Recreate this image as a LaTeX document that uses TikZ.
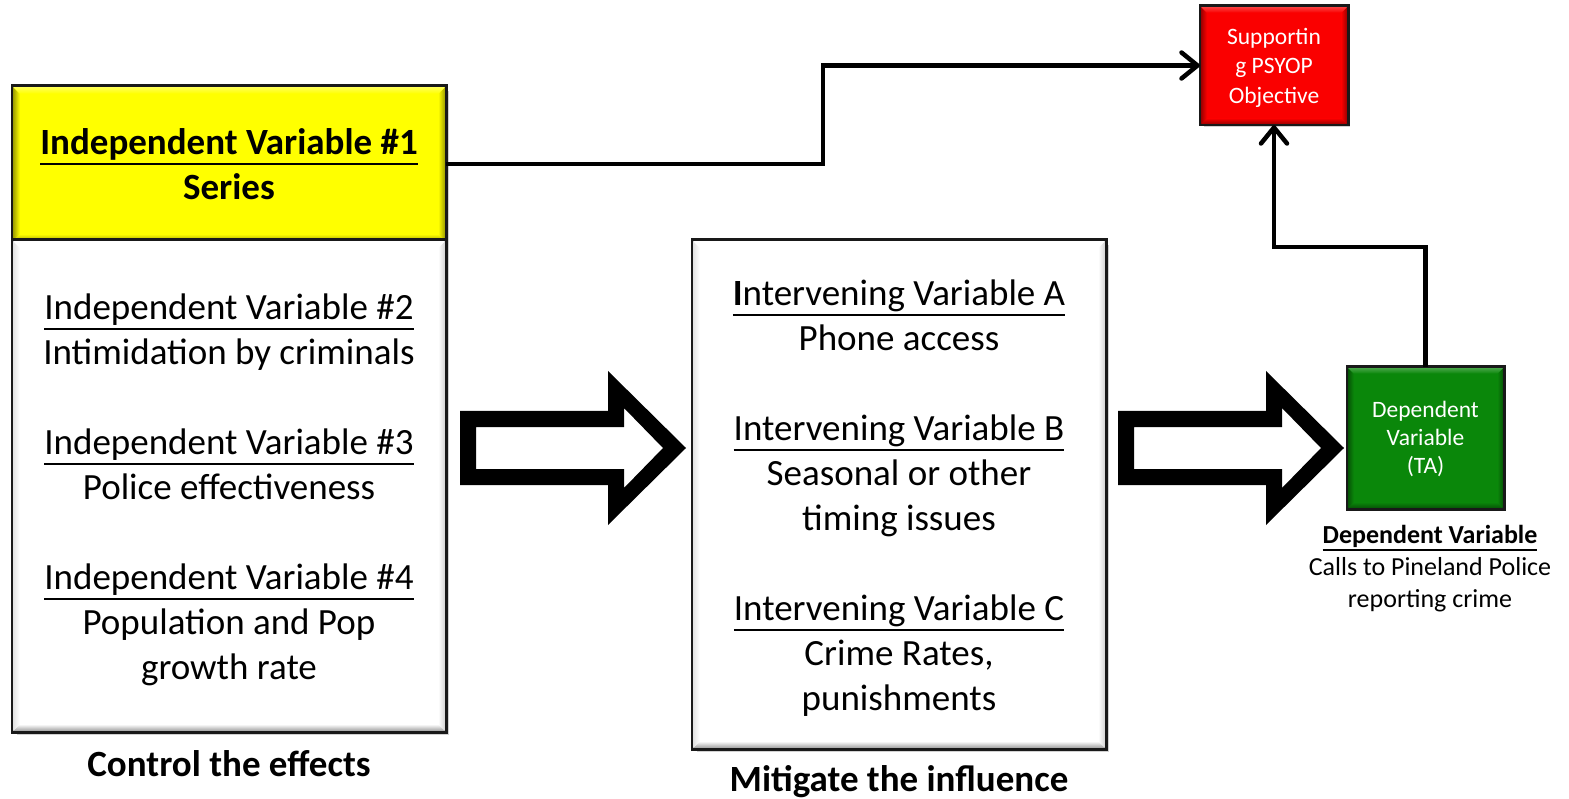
\documentclass[tikz,border=0pt]{standalone}
\usepackage{fontspec}
\setmainfont{Carlito}
\newsavebox\myulbox
\newcommand\myul[1]{\sbox\myulbox{#1}\rlap{\rule[-0.27em]{\wd\myulbox}{0.05em}}\usebox\myulbox}
\usetikzlibrary{arrows.meta,calc}
\definecolor{grn}{RGB}{10,135,10}
\definecolor{rd}{RGB}{250,0,0}
\definecolor{ylw}{RGB}{255,255,0}
\newcommand\bevelbox[5]{% node, width, base, dark, light
  \shade[top color=#3, bottom color=#4] (#1.south west) -- (#1.south east) -- ([shift={(-#2,-#2)}]#1.south east) -- ([shift={(#2,-#2)}]#1.south west) -- cycle;
  \shade[left color=#3, right color=#3!55!#4] (#1.south east) -- (#1.north east) -- ([shift={(-#2,#2)}]#1.north east) -- ([shift={(-#2,-#2)}]#1.south east) -- cycle;
  \shade[left color=#3!70!#4, right color=#3] (#1.north west) -- (#1.south west) -- ([shift={(#2,-#2)}]#1.south west) -- ([shift={(#2,#2)}]#1.north west) -- cycle;
  \shade[top color=#5, bottom color=#3] (#1.north west) -- (#1.north east) -- ([shift={(-#2,#2)}]#1.north east) -- ([shift={(#2,#2)}]#1.north west) -- cycle;
  \draw[black!90, line width=2.5pt] (#1.south west) rectangle (#1.north east);
}
\tikzset{
  box/.style={draw=black!90, line width=2.5pt, inner sep=0pt, rectangle},
  conn/.style={line width=4.5pt, line join=miter, -{Straight Barb[length=16pt,width=26pt,line cap=round,line join=round]}},
  txt/.style={anchor=base, inner sep=0pt},
  big/.style={font=\fontsize{37}{45}\selectfont},
  bigb/.style={font=\fontsize{37}{45}\selectfont\bfseries},
  shadow/.style={fill=black, opacity=0.18},
  hollow/.pic={
    \fill[black, even odd rule] (460,411) -- (608,411) -- (608,371) -- (686,448) -- (608,525) -- (608,485) -- (460,485) -- cycle
      (476,427) -- (624,427) -- (624,408) -- (663,448) -- (624,488) -- (624,469) -- (476,469) -- cycle;
  }
}
\begin{document}
\begin{tikzpicture}[x=1pt,y=-1pt]
\useasboundingbox (0,0) rectangle (1569,799);
% shadows
\fill[shadow] (17,91) rectangle (449,735);
\fill[shadow] (697,245) rectangle (1109,752);
\fill[shadow] (1351,371) rectangle (1506,511);
\fill[shadow] (1204,10) rectangle (1350,127);
% boxes
\node[box, fill=ylw, minimum width=432pt, minimum height=154pt] (yb) at (229,164) {};
\bevelbox{yb}{8}{ylw}{ylw!55!black}{ylw!60!white}
\node[box, fill=white, minimum width=432pt, minimum height=490pt] (lb) at (229,486) {};
\bevelbox{lb}{8}{white}{black!45}{white}
\node[box, fill=white, minimum width=412pt, minimum height=507pt] (mb) at (899,494.5) {};
\bevelbox{mb}{8}{white}{black!45}{white}
\node[box, fill=grn, minimum width=155pt, minimum height=140pt] (gb) at (1425.5,438) {};
\bevelbox{gb}{7}{grn}{grn!55!black}{grn!70!white}
\node[box, fill=rd, minimum width=146pt, minimum height=117pt] (rb) at (1274,65.5) {};
\bevelbox{rb}{7}{rd}{rd!55!black}{rd!70!white}
% hollow arrows
\pic at (0,0) {hollow};
\pic at (658,0) {hollow};
% connectors
\coordinate (k1) at (823,110);
\coordinate (k2) at (1350,247);
\draw[conn] (yb.east) -| (k1) |- (rb.west);
\draw[conn] (gb.north) |- (k2) -| (rb.south);
% texts
\node[txt, bigb] (yt) at (229,155) {\begin{tabular}[t]{@{}c@{}}\myul{Independent Variable \#1}\\Series\end{tabular}};
\node[txt, big] (lt) at (229,320) {\begin{tabular}[t]{@{}c@{}}\myul{Independent Variable \#2}\\Intimidation by criminals\\ \\ \myul{Independent Variable \#3}\\Police effectiveness\\ \\ \myul{Independent Variable \#4}\\Population and Pop\\growth rate\end{tabular}};
\node[txt, big] (mt) at (899,306) {\begin{tabular}[t]{@{}c@{}}\myul{\textbf{I}ntervening Variable A}\\Phone access\\ \\ \myul{Intervening Variable B}\\Seasonal or other\\timing issues\\ \\ \myul{Intervening Variable C}\\Crime Rates,\\punishments\end{tabular}};
\node[txt, bigb] (cap1) at (229,776) {Control the effects};
\node[txt, bigb] (cap2) at (899,791) {Mitigate the influence};
\node[txt, text=white, font=\fontsize{23.5}{28}\selectfont] (gt) at (1425.5,417.5) {\begin{tabular}[t]{@{}c@{}}Dependent\\Variable\\(TA)\end{tabular}};
\node[txt, font=\fontsize{26}{32}\selectfont] (gcap) at (1430,543.5) {\begin{tabular}[t]{@{}c@{}}\textbf{\myul{Dependent Variable}}\\Calls to Pineland Police\\reporting crime\end{tabular}};
\node[txt, text=white, font=\fontsize{23.5}{29.5}\selectfont] (rt) at (1274,44.5) {\begin{tabular}[t]{@{}c@{}}Supportin\\g PSYOP\\Objective\end{tabular}};
\end{tikzpicture}
\end{document}
